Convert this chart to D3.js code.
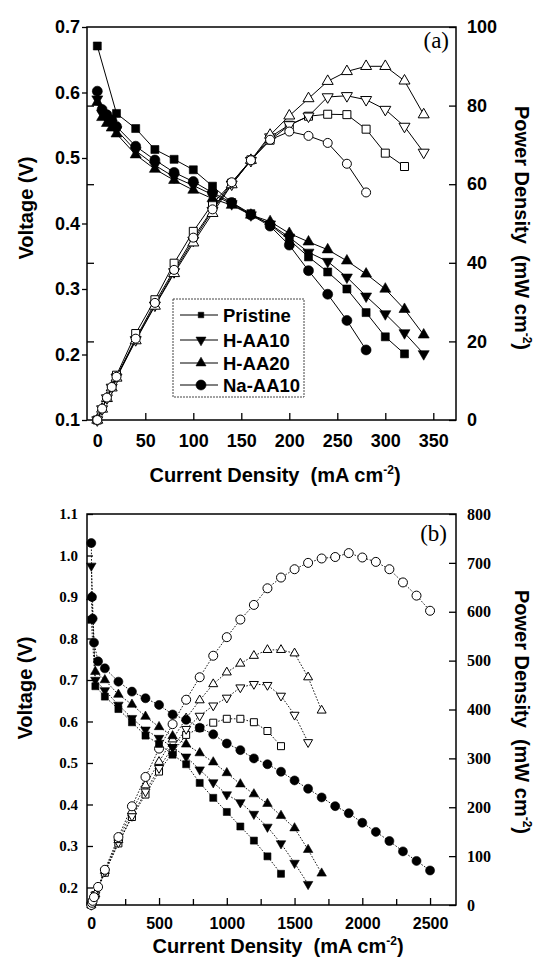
<!DOCTYPE html>
<html><head><meta charset="utf-8">
<script src="https://cdn.jsdelivr.net/npm/d3@7"></script>
<style>body{margin:0;background:#fff}svg{display:block}</style>
</head><body>
<script>
// ---------- data: panel (a) ----------
const seriesNames = ["Pristine", "H-AA10", "H-AA20", "Na-AA10"];
const seriesMarks = ["square", "down", "up", "circle"];

const aCurrentPristine = [0,20,40,60,80,100,120,140,160,180,200,220,240,260,280,300,320];
const aVoltPristine = [0.671,0.568,0.545,0.513,0.498,0.482,0.457,0.432,0.415,0.398,0.375,0.349,0.326,0.300,0.264,0.227,0.201];
const aPowerPristine = [0,11.4,22.0,30.6,39.9,48.0,55.0,60.3,66.2,71.2,75.0,77.3,77.8,77.7,74.0,67.9,64.5];

const aCurrentHAA10 = [0,5,10,15,20,40,60,80,100,120,140,160,180,200,220,240,260,280,300,320,340];
const aVoltHAA10 = [0.590,0.568,0.560,0.553,0.543,0.511,0.489,0.471,0.458,0.444,0.430,0.413,0.399,0.379,0.356,0.342,0.318,0.289,0.262,0.233,0.201];
const aPowerHAA10 = [0,2.8,5.6,8.3,10.9,20.4,29.2,37.7,45.7,53.3,60.0,66.0,72.0,75.1,77.3,82.2,82.5,81.5,79.0,74.7,68.1];

const aCurrentHAA20 = [0,5,10,15,20,40,60,80,100,120,140,160,180,200,220,240,260,280,300,320,340];
const aVoltHAA20 = [0.585,0.562,0.553,0.546,0.537,0.505,0.483,0.466,0.451,0.438,0.428,0.413,0.403,0.385,0.372,0.360,0.343,0.323,0.300,0.269,0.230];
const aPowerHAA20 = [0,2.8,5.5,8.2,10.7,20.2,29.0,37.3,45.1,52.6,59.9,66.1,72.5,77.4,81.8,86.2,88.7,90.0,90.0,86.3,77.7];

const aCurrentNaAA10 = [0,5,10,15,20,40,60,80,100,120,140,160,180,200,220,240,260,280];
const aVoltNaAA10 = [0.602,0.574,0.566,0.558,0.548,0.518,0.497,0.478,0.464,0.447,0.432,0.413,0.396,0.367,0.328,0.292,0.252,0.207];
const aPowerNaAA10 = [0,2.9,5.7,8.4,11.0,20.7,29.8,38.2,46.4,53.6,60.5,66.1,71.3,73.4,72.3,70.5,65.2,57.9];

const aXTicks = [0,50,100,150,200,250,300,350];
const aVTicks = [0.1,0.2,0.3,0.4,0.5,0.6,0.7];
const aPTicks = [0,20,40,60,80,100];

// ---------- data: panel (b) ----------
const bCurrentPristine = [0,30,100,200,300,400,500,600,700,800,900,1000,1100,1200,1300,1400];
const bVoltPristine = [0.845,0.685,0.660,0.630,0.598,0.566,0.546,0.520,0.497,0.452,0.416,0.382,0.347,0.313,0.275,0.233];
const bPowerPristine = [0,20,66,126,180,226,273,312,348,362,373,381,381,374,356,325];

const bCurrentHAA10 = [0,30,100,200,300,400,500,600,700,800,900,1000,1100,1200,1300,1400,1500,1600];
const bVoltHAA10 = [0.975,0.700,0.675,0.640,0.608,0.580,0.560,0.538,0.515,0.484,0.453,0.424,0.405,0.377,0.346,0.306,0.259,0.208];
const bPowerHAA10 = [0,21,68,128,182,232,280,323,360,387,408,424,445,452,450,428,389,333];

const bCurrentHAA20 = [0,30,100,200,300,400,500,600,700,800,900,1000,1100,1200,1300,1400,1500,1600,1700];
const bVoltHAA20 = [0.900,0.720,0.700,0.665,0.641,0.612,0.587,0.565,0.545,0.524,0.502,0.476,0.449,0.425,0.402,0.373,0.343,0.291,0.234];
const bPowerHAA20 = [0,22,70,133,192,245,293,339,382,419,452,476,494,510,522,522,515,466,398];

const bCurrentNaAA10 = [0,5,10,20,50,100,200,300,400,500,600,700,800,900,1000,1100,1200,1300,1400,1500,1600,1700,1800,1900,2000,2100,2200,2300,2400,2500];
const bVoltNaAA10 = [1.030,0.900,0.848,0.790,0.745,0.728,0.696,0.672,0.656,0.640,0.617,0.604,0.585,0.569,0.547,0.531,0.511,0.497,0.479,0.458,0.438,0.417,0.396,0.379,0.356,0.334,0.312,0.287,0.264,0.241];
const bPowerNaAA10 = [0,4.5,8.5,16,37,72,139,202,262,320,370,420,466,510,548,584,614,648,670,687,700,709,712,720,711,702,687,660,633,602];

const bXTicks = [0,500,1000,1500,2000,2500];
const bXMinorTicks = [250,750,1250,1750,2250];
const bVTicks = [0.2,0.3,0.4,0.5,0.6,0.7,0.8,0.9,1.0,1.1];
const bPTicks = [0,100,200,300,400,500,600,700,800];

// ---------- drawing ----------
const SANS = "'Liberation Sans', Arial, Helvetica, sans-serif";
const SERIF = "'Liberation Serif', 'Times New Roman', Times, serif";
const svg = d3.select("body").append("svg").attr("width", 535).attr("height", 966);

function symbolPath(kind, s) {
  if (kind === "square") return d3.symbol(d3.symbolSquare, s * s)();
  if (kind === "circle") return d3.symbol(d3.symbolCircle, Math.PI * s * s / 4)();
  return d3.symbol(d3.symbolTriangle, Math.sqrt(3) / 4 * s * s)();
}
function drawMarker(g, kind, x, y, s, filled) {
  g.append("path")
    .attr("d", symbolPath(kind, s))
    .attr("transform", `translate(${x},${y})` + (kind === "down" ? " rotate(180)" : ""))
    .attr("fill", filled ? "#000" : "#fff")
    .attr("stroke", "#000")
    .attr("stroke-width", filled ? 0.6 : 1);
}
function addSup(t, main, sup, tail, supDy) {
  t.append("tspan").text(main);
  t.append("tspan").attr("font-size", "60%").attr("dy", -supDy).text(sup);
  t.append("tspan").attr("dy", supDy).text(tail);
}

function panel(cfg) {
  const g = svg.append("g");
  const x = d3.scaleLinear().domain(cfg.xDomain).range([cfg.L, cfg.R]);
  const yV = d3.scaleLinear().domain(cfg.vDomain).range([cfg.B, cfg.T]);
  const yP = d3.scaleLinear().domain(cfg.pDomain).range([cfg.B, cfg.T]);

  const styleAxis = (sel, font, size) => {
    sel.select(".domain").remove();
    sel.selectAll("line").attr("stroke", "#000").attr("stroke-width", 1.3);
    sel.selectAll("text").attr("font-family", font).attr("font-size", size)
      .attr("font-weight", "bold").attr("fill", "#000");
  };
  g.append("g").attr("transform", `translate(0,${cfg.B})`)
    .call(d3.axisBottom(x).tickValues(cfg.xTicks).tickSizeInner(-7).tickSizeOuter(0)
      .tickPadding(cfg.xPad).tickFormat(d3.format("d")))
    .call(s => styleAxis(s, SANS, cfg.xFont));
  if (cfg.xMinor) {
    g.append("g").attr("transform", `translate(0,${cfg.B})`)
      .call(d3.axisBottom(x).tickValues(cfg.xMinor).tickSizeInner(-6).tickSizeOuter(0).tickFormat(""))
      .call(s => styleAxis(s, SANS, cfg.xFont));
  }
  g.append("g").attr("transform", `translate(${cfg.L},0)`)
    .call(d3.axisLeft(yV).tickValues(cfg.vTicks).tickSizeInner(cfg.vTickLen).tickSizeOuter(0)
      .tickPadding(cfg.vPad).tickFormat(d3.format(".1f")))
    .call(s => styleAxis(s, cfg.yFontFamily, cfg.yFont));
  if (cfg.mirrorP) {
    g.append("g").attr("transform", `translate(${cfg.L},0)`)
      .call(d3.axisLeft(yP).tickValues(cfg.pTicks.slice(1, -1)).tickSizeInner(-7).tickSizeOuter(0).tickFormat(""))
      .call(s => styleAxis(s, SANS, 10));
  }
  g.append("g").attr("transform", `translate(${cfg.R},0)`)
    .call(d3.axisRight(yP).tickValues(cfg.pTicks).tickSizeInner(-7).tickSizeOuter(0)
      .tickPadding(cfg.pPad).tickFormat(d3.format("d")))
    .call(s => styleAxis(s, cfg.yFontFamily, cfg.pFont));
  g.append("rect").attr("x", cfg.L).attr("y", cfg.T)
    .attr("width", cfg.R - cfg.L).attr("height", cfg.B - cfg.T)
    .attr("fill", "none").attr("stroke", "#000").attr("stroke-width", 1.5);

  const plot = g.append("g");
  cfg.series.forEach((s) => {
    const vPts = s.I.map((c, k) => [x(c), yV(s.V[k])]);
    const pPts = s.I.map((c, k) => [x(c), yP(s.P[k])]);
    [vPts, pPts].forEach(pts => {
      plot.append("path").attr("d", d3.line()(pts)).attr("fill", "none")
        .attr("stroke", "#000").attr("stroke-width", cfg.lineW)
        .attr("stroke-dasharray", cfg.dash || null);
    });
  });
  cfg.series.forEach((s, i) => {
    const kind = seriesMarks[i];
    s.I.forEach((c, k) => drawMarker(plot, kind, x(c), yP(s.P[k]), cfg.openSize[kind], false));
  });
  cfg.series.forEach((s, i) => {
    const kind = seriesMarks[i];
    s.I.forEach((c, k) => drawMarker(plot, kind, x(c), yV(s.V[k]), cfg.fillSize[kind], true));
  });

  g.append("text").attr("x", cfg.tag[0]).attr("y", cfg.tag[1]).attr("text-anchor", "end")
    .attr("font-family", SERIF).attr("font-size", 23).text(cfg.tagText);
  g.append("text")
    .attr("transform", `translate(${cfg.vTitle[0]},${cfg.vTitle[1]}) rotate(-90)`)
    .attr("text-anchor", "middle").attr("font-family", SANS).attr("font-weight", "bold")
    .attr("font-size", cfg.titleFont).text("Voltage (V)");
  const pt = g.append("text")
    .attr("transform", `translate(${cfg.pTitle[0]},${cfg.pTitle[1]}) rotate(90)`)
    .attr("text-anchor", "middle").attr("font-family", SANS).attr("font-weight", "bold")
    .attr("font-size", cfg.titleFont).style("white-space", "pre");
  addSup(pt, "Power Density  (mW cm", "-2", ")", 8);
  const xt = g.append("text").attr("x", cfg.xTitle[0]).attr("y", cfg.xTitle[1])
    .attr("text-anchor", "middle").attr("font-family", SANS).attr("font-weight", "bold")
    .attr("font-size", cfg.titleFont).style("white-space", "pre");
  addSup(xt, "Current Density  (mA cm", "-2", ")", 8);
  return { g, x, yV, yP };
}

panel({
  L: 87, R: 456, T: 27, B: 420,
  xDomain: [-10.73, 373.65], vDomain: [0.1, 0.7], pDomain: [0, 100],
  xTicks: aXTicks, vTicks: aVTicks, pTicks: aPTicks,
  xPad: 14, xFont: 18, vPad: 2, vTickLen: 5, yFont: 18, pFont: 18, pPad: 11,
  yFontFamily: SANS, mirrorP: true,
  lineW: 1, dash: null,
  fillSize: { square: 8, down: 11, up: 11, circle: 10 },
  openSize: { square: 8, down: 11, up: 11, circle: 9 },
  tag: [449, 48], tagText: "(a)",
  vTitle: [33, 208], pTitle: [515, 228], xTitle: [275, 482], titleFont: 20,
  series: [
    { I: aCurrentPristine, V: aVoltPristine, P: aPowerPristine },
    { I: aCurrentHAA10, V: aVoltHAA10, P: aPowerHAA10 },
    { I: aCurrentHAA20, V: aVoltHAA20, P: aPowerHAA20 },
    { I: aCurrentNaAA10, V: aVoltNaAA10, P: aPowerNaAA10 }
  ]
});

panel({
  L: 87, R: 456, T: 514, B: 905,
  xDomain: [-31.7, 2691.5], vDomain: [0.1578, 1.1], pDomain: [0, 800],
  xTicks: bXTicks, xMinor: bXMinorTicks, vTicks: bVTicks, pTicks: bPTicks,
  xPad: 13, xFont: 16, vPad: 9, vTickLen: -6, yFont: 15, pFont: 16, pPad: 11,
  yFontFamily: SERIF, mirrorP: false,
  lineW: 0.9, dash: "1.6,1.6",
  fillSize: { square: 7, down: 9.5, up: 9.5, circle: 9 },
  openSize: { square: 7, down: 9, up: 9, circle: 9 },
  tag: [447, 541], tagText: "(b)",
  vTitle: [32, 688], pTitle: [515, 712], xTitle: [278, 953], titleFont: 20,
  series: [
    { I: bCurrentPristine, V: bVoltPristine, P: bPowerPristine },
    { I: bCurrentHAA10, V: bVoltHAA10, P: bPowerHAA10 },
    { I: bCurrentHAA20, V: bVoltHAA20, P: bPowerHAA20 },
    { I: bCurrentNaAA10, V: bVoltNaAA10, P: bPowerNaAA10 }
  ]
});

// legend for panel (a)
const leg = svg.append("g");
leg.append("rect").attr("x", 173).attr("y", 299).attr("width", 131).attr("height", 98)
  .attr("fill", "#fff").attr("stroke", "#444").attr("stroke-width", 1).attr("stroke-dasharray", "2,1");
const legRows = [315, 340, 363, 385];
const legSizes = { square: 5.5, down: 10, up: 10, circle: 10 };
seriesNames.forEach((name, i) => {
  const y = legRows[i];
  leg.append("line").attr("x1", 180).attr("x2", 218).attr("y1", y).attr("y2", y)
    .attr("stroke", "#000").attr("stroke-width", 1);
  drawMarker(leg, seriesMarks[i], 201, y, legSizes[seriesMarks[i]], true);
  leg.append("text").attr("x", 223).attr("y", y + 6.5)
    .attr("font-family", SANS).attr("font-weight", "bold").attr("font-size", 18.5)
    .text(name);
});
</script>
</body></html>
